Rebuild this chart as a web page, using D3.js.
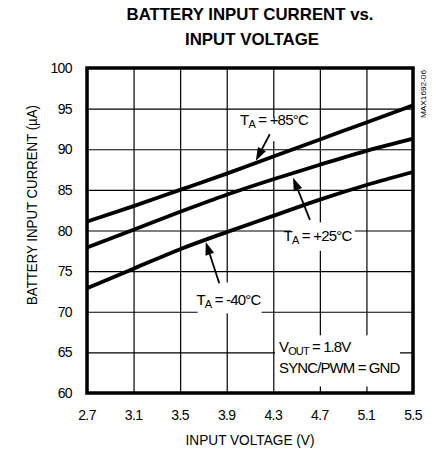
<!DOCTYPE html>
<html>
<head>
<meta charset="utf-8">
<script src="https://cdn.jsdelivr.net/npm/d3@7"></script>
<style>
  body { margin: 0; background: #fff; }
  text { font-family: "Liberation Sans", Arial, sans-serif; fill: #000; }
</style>
</head>
<body>
<script>
var width = 436;
var height = 454;

// data
var voltage = [2.7, 3.1, 3.5, 3.9, 4.3, 4.7, 5.1, 5.5];
var current85 = [81.1, 83.0, 85.0, 87.0, 89.1, 91.2, 93.3, 95.4];
var current25 = [77.9, 80.1, 82.3, 84.4, 86.3, 88.1, 89.8, 91.3];
var currentM40 = [72.9, 75.3, 77.7, 79.8, 81.8, 83.8, 85.6, 87.2];
var xTicks = [2.7, 3.1, 3.5, 3.9, 4.3, 4.7, 5.1, 5.5];
var yTicks = [60, 65, 70, 75, 80, 85, 90, 95, 100];

var series = [current85, current25, currentM40];

var svg = d3.select("body")
    .append("svg")
    .attr("width", width)
    .attr("height", height);

var x = d3.scaleLinear().domain([2.7, 5.5]).range([87, 413]);
var y = d3.scaleLinear().domain([60, 100]).range([393, 68]);

// grid
svg.append("g")
    .attr("transform", "translate(0," + y(60) + ")")
    .call(d3.axisBottom(x).tickValues(xTicks).tickSize(-(y(60) - y(100))).tickFormat(""))
    .call(function(g) { g.select(".domain").remove(); })
    .selectAll("line").attr("stroke", "#000").attr("stroke-width", 1.2);

svg.append("g")
    .attr("transform", "translate(" + x(2.7) + ",0)")
    .call(d3.axisLeft(y).tickValues(yTicks).tickSize(-(x(5.5) - x(2.7))).tickFormat(""))
    .call(function(g) { g.select(".domain").remove(); })
    .selectAll("line").attr("stroke", "#000").attr("stroke-width", 1.2);

// label boxes (white, covering the grid only)
function box(v0, v1, a0, a1) {
  svg.append("rect")
    .attr("x", x(v0)).attr("y", y(a1))
    .attr("width", x(v1) - x(v0)).attr("height", y(a0) - y(a1))
    .attr("fill", "#fff");
}
box(4.06, 4.61, 91.0, 93.9);   // +85
box(4.45, 5.0, 77.5, 81.0);    // +25
box(3.65, 4.2, 69.8, 73.6);    // -40
box(4.315, 5.388, 60.8, 67.1); // conditions

// curves
var line = d3.line()
    .x(function(d, i) { return x(voltage[i]); })
    .y(function(d) { return y(d); })
    .curve(d3.curveMonotoneX);

svg.selectAll(".curve")
    .data(series)
    .enter().append("path")
    .attr("class", "curve")
    .attr("fill", "none")
    .attr("stroke", "#000")
    .attr("stroke-width", 3.8)
    .attr("d", line);

// border
svg.append("rect")
    .attr("x", x(2.7)).attr("y", y(100))
    .attr("width", x(5.5) - x(2.7)).attr("height", y(60) - y(100))
    .attr("fill", "none").attr("stroke", "#000").attr("stroke-width", 3.5);

// arrows
function arrow(v0, a0, v1, a1) {
  var x0 = x(v0), y0 = y(a0), x1 = x(v1), y1 = y(a1);
  var ang = Math.atan2(y1 - y0, x1 - x0);
  var len = 13, hw = 4.5;
  var bx = x1 - len * Math.cos(ang), by = y1 - len * Math.sin(ang);
  svg.append("line")
    .attr("x1", x0).attr("y1", y0).attr("x2", bx).attr("y2", by)
    .attr("stroke", "#000").attr("stroke-width", 1.8);
  svg.append("path")
    .attr("d", "M" + x1 + "," + y1 +
      "L" + (bx + hw * Math.sin(ang)) + "," + (by - hw * Math.cos(ang)) +
      "L" + (bx - hw * Math.sin(ang)) + "," + (by + hw * Math.cos(ang)) + "Z")
    .attr("fill", "#000");
}
arrow(4.27, 91.85, 4.15, 88.6);
arrow(4.615, 81.3, 4.47, 86.5);
arrow(3.836, 73.5, 3.72, 78.6);

// temperature labels
function tLabel(v, a, temp) {
  var t = svg.append("text")
    .attr("x", x(v)).attr("y", y(a))
    .attr("text-anchor", "middle")
    .style("font-size", "15px")
    .style("letter-spacing", "-0.8px");
  t.append("tspan").text("T");
  t.append("tspan").attr("dy", 3).style("font-size", "11px").text("A");
  t.append("tspan").attr("dy", -3).text(" = " + temp);
}
tLabel(4.306, 92.98, "+85°C");
tLabel(4.68, 78.7, "+25°C");
tLabel(3.915, 70.83, "-40°C");

// conditions
var c1 = svg.append("text")
    .attr("x", x(4.35)).attr("y", y(65.1))
    .style("font-size", "15px").style("letter-spacing", "-0.9px");
c1.append("tspan").text("V");
c1.append("tspan").attr("dy", 3).style("font-size", "11px").text("OUT");
c1.append("tspan").attr("dy", -3).text(" = 1.8V");
svg.append("text")
    .attr("x", x(4.35)).attr("y", y(62.5))
    .style("font-size", "15px").style("letter-spacing", "-0.9px")
    .text("SYNC/PWM = GND");

// tick labels
svg.selectAll(".xl")
    .data(xTicks)
    .enter().append("text")
    .attr("x", function(d) { return x(d); })
    .attr("y", 420)
    .attr("text-anchor", "middle")
    .style("font-size", "14px").style("letter-spacing", "-0.6px")
    .text(function(d) { return d.toFixed(1); });

svg.selectAll(".yl")
    .data(yTicks)
    .enter().append("text")
    .attr("x", 72)
    .attr("y", function(d) { return y(d) + 5; })
    .attr("text-anchor", "end")
    .style("font-size", "14px").style("letter-spacing", "-0.6px")
    .text(function(d) { return d; });

// titles
svg.append("text")
    .attr("x", 250).attr("y", 20)
    .attr("text-anchor", "middle")
    .attr("textLength", 247).attr("lengthAdjust", "spacingAndGlyphs")
    .style("font-size", "17px").style("font-weight", "bold")
    .text("BATTERY INPUT CURRENT vs.");
svg.append("text")
    .attr("x", 252).attr("y", 45)
    .attr("text-anchor", "middle")
    .attr("textLength", 134).attr("lengthAdjust", "spacingAndGlyphs")
    .style("font-size", "17px").style("font-weight", "bold")
    .text("INPUT VOLTAGE");

svg.append("text")
    .attr("x", 250).attr("y", 445)
    .attr("text-anchor", "middle")
    .attr("textLength", 129).attr("lengthAdjust", "spacingAndGlyphs")
    .style("font-size", "14px")
    .text("INPUT VOLTAGE (V)");

svg.append("text")
    .attr("transform", "translate(37,205) rotate(-90)")
    .attr("text-anchor", "middle")
    .attr("textLength", 200).attr("lengthAdjust", "spacingAndGlyphs")
    .style("font-size", "14px")
    .text("BATTERY INPUT CURRENT (µA)");

svg.append("text")
    .attr("transform", "translate(426,70) rotate(-90)")
    .attr("text-anchor", "end")
    .attr("textLength", 48).attr("lengthAdjust", "spacingAndGlyphs")
    .style("font-size", "8px")
    .text("MAX1692-06");
</script>
</body>
</html>
